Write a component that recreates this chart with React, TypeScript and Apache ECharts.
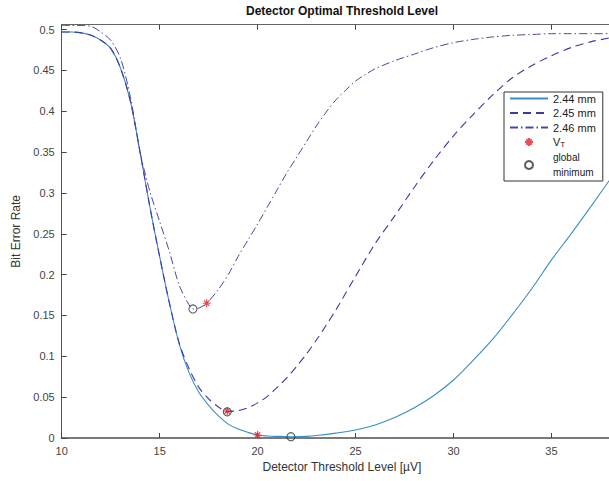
import React, { useEffect, useRef } from "react";
import * as echarts from "echarts";

// ---- data ----
const x244 = [10, 10.5, 11, 11.5, 12, 12.5, 13, 13.5, 14, 14.5, 15, 15.5, 16, 16.5, 17, 17.5, 18, 18.5, 19, 19.5, 20, 20.5, 21, 21.7, 22.5, 23, 24, 25, 26, 27, 28, 29, 30, 31, 32, 33, 34, 35, 36, 37, 38, 39, 40];
const y244 = [0.497, 0.497, 0.496, 0.493, 0.487, 0.477, 0.453, 0.413, 0.35, 0.283, 0.222, 0.165, 0.115, 0.08, 0.056, 0.04, 0.027, 0.017, 0.011, 0.007, 0.0037, 0.0025, 0.002, 0.0016, 0.002, 0.003, 0.006, 0.0098, 0.016, 0.025, 0.037, 0.052, 0.071, 0.095, 0.121, 0.151, 0.183, 0.218, 0.25, 0.283, 0.317, 0.35, 0.38];

const x245 = [10, 10.5, 11, 11.5, 12, 12.5, 13, 13.5, 14, 14.5, 15, 15.5, 16, 16.5, 17, 17.5, 18, 18.45, 19, 19.5, 20, 20.5, 21, 21.5, 22, 22.5, 23, 23.5, 24, 25, 26, 27, 28, 29, 30, 31, 32, 33, 34, 35, 36, 37, 38, 39, 40];
const y245 = [0.497, 0.497, 0.496, 0.493, 0.487, 0.477, 0.453, 0.413, 0.35, 0.283, 0.222, 0.165, 0.116, 0.085, 0.062, 0.048, 0.038, 0.0325, 0.0335, 0.037, 0.043, 0.051, 0.062, 0.074, 0.088, 0.103, 0.12, 0.138, 0.157, 0.198, 0.238, 0.272, 0.307, 0.34, 0.37, 0.396, 0.42, 0.441, 0.456, 0.468, 0.478, 0.485, 0.49, 0.494, 0.496];

const x246 = [10, 10.5, 11, 11.5, 12, 12.5, 13, 13.5, 14, 14.5, 15, 15.5, 16, 16.5, 16.7, 17, 17.4, 18, 18.5, 19, 19.5, 20, 20.5, 21, 21.5, 22, 22.5, 23, 23.5, 24, 24.5, 25, 25.5, 26, 27, 28, 29, 30, 31, 32, 33, 34, 35, 36, 37, 38, 40];
const y246 = [0.505, 0.505, 0.505, 0.504, 0.497, 0.487, 0.465, 0.418, 0.35, 0.302, 0.265, 0.228, 0.187, 0.163, 0.158, 0.159, 0.165, 0.182, 0.2, 0.222, 0.242, 0.262, 0.283, 0.304, 0.325, 0.344, 0.363, 0.382, 0.399, 0.414, 0.426, 0.437, 0.445, 0.452, 0.462, 0.47, 0.478, 0.484, 0.488, 0.491, 0.493, 0.494, 0.495, 0.495, 0.495, 0.495, 0.495];

const vtX = [17.4, 18.45, 20.0];
const vtY = [0.165, 0.033, 0.0037];
const minX = [16.7, 18.45, 21.7];
const minY = [0.158, 0.032, 0.0016];

const seriesNames = ["2.44 mm", "2.45 mm", "2.46 mm"];
const vtName = "VT";
const minName = "global\nminimum";
const xTicks = [10, 15, 20, 25, 30, 35];

const FONT = "'Liberation Sans', Arial, Helvetica, sans-serif";
const zip = (xs: number[], ys: number[]) => xs.map((x, i) => [x, ys[i]]);

const ASTERISK = "path://M5,0L5,10M0,5L10,5M1.6,1.6L8.4,8.4M1.6,8.4L8.4,1.6";

export default function App() {
  const ref = useRef<HTMLDivElement>(null);
  useEffect(() => {
    if (!ref.current) return;
    const chart = echarts.init(ref.current, undefined, { renderer: "svg" });
    chart.setOption({
      animation: false,
      backgroundColor: "#ffffff",
      textStyle: { fontFamily: FONT },
      graphic: [
        {
          type: "text",
          x: 342,
          y: 11,
          style: {
            text: "Detector Optimal Threshold Level",
            textAlign: "center",
            textVerticalAlign: "middle",
            font: `bold 12px ${FONT}`,
            fill: "#111",
          },
          z: 10,
        },
      ],
      grid: { left: 61.7, top: 24.7, right: 18, bottom: 43, containLabel: false },
      legend: {
        orient: "vertical",
        left: 504,
        top: 92,
        backgroundColor: "#ffffff",
        borderColor: "#333",
        borderWidth: 1,
        borderRadius: 0,
        padding: [0, 7, 1, 5],
        itemGap: 1.5,
        itemWidth: 38,
        itemHeight: 8,
        textStyle: {
          fontSize: 11,
          lineHeight: 13,
          color: "#222",
          fontFamily: FONT,
          rich: {
            v: { fontSize: 11, lineHeight: 13, color: "#222", fontFamily: FONT },
            s: { fontSize: 8, lineHeight: 13, color: "#222", fontFamily: FONT, verticalAlign: "bottom", padding: [5, 0, 0, 0] },
            g: { fontSize: 10, lineHeight: 15, color: "#222", fontFamily: FONT },
          },
        },
        formatter: (name: string) =>
          name === vtName ? "{v|V}{s|T}" : name === minName ? "{g|global}\n{g|minimum}" : name,
        data: [
          { name: seriesNames[0], itemStyle: { opacity: 0 } },
          { name: seriesNames[1], itemStyle: { opacity: 0 } },
          { name: seriesNames[2], itemStyle: { opacity: 0 } },
          { name: vtName },
          { name: minName },
        ],
      },
      xAxis: [
        {
          type: "value",
          min: 10,
          max: 38.6,
          interval: 5,
          position: "bottom",
          name: "Detector Threshold Level [µV]",
          nameLocation: "middle",
          nameGap: 22,
          nameTextStyle: { fontSize: 12, color: "#333", fontFamily: FONT },
          axisLine: { show: true, lineStyle: { color: "#7a7a7a", width: 2 } },
          axisTick: { show: true, inside: true, length: 5, lineStyle: { color: "#444", width: 1 } },
          axisLabel: {
            show: true,
            showMaxLabel: false,
            fontSize: 11,
            color: "#444",
            margin: 7,
            fontFamily: FONT,
            formatter: (v: number) => (xTicks.includes(v) ? String(v) : ""),
          },
          splitLine: { show: false },
        },
        {
          type: "value",
          min: 10,
          max: 38.6,
          interval: 5,
          position: "top",
          axisLine: { show: true, onZero: false, lineStyle: { color: "#666", width: 1 } },
          axisTick: { show: true, inside: true, length: 5, lineStyle: { color: "#444", width: 1 } },
          axisLabel: { show: false },
          splitLine: { show: false },
        },
      ],
      yAxis: {
        type: "value",
        min: 0,
        max: 0.506,
        interval: 0.05,
        name: "Bit Error Rate",
        nameLocation: "middle",
        nameGap: 31,
        nameTextStyle: { fontSize: 12, color: "#333", fontFamily: FONT },
        axisLine: { show: true, lineStyle: { color: "#555", width: 1 } },
        axisTick: { show: true, inside: true, length: 5, lineStyle: { color: "#444", width: 1 } },
        axisLabel: {
          showMaxLabel: false,
          fontSize: 11,
          color: "#444",
          margin: 7,
          fontFamily: FONT,
          formatter: (v: number) => {
            const r = Math.round(v * 100) / 100;
            return Math.abs(r - v) < 1e-9 ? String(r) : "";
          },
        },
        splitLine: { show: false },
      },
      series: [
        {
          name: seriesNames[0],
          type: "line",
          data: zip(x244, y244),
          smooth: 0.3,
          symbol: "none",
          lineStyle: { color: "#3a8dc5", width: 1.1, type: "solid" },
          itemStyle: { color: "#3a8dc5" },
          z: 2,
        },
        {
          name: seriesNames[1],
          type: "line",
          data: zip(x245, y245),
          smooth: 0.3,
          symbol: "none",
          lineStyle: { color: "#3b3ba3", width: 1.1, type: [8, 5] },
          itemStyle: { color: "#3b3ba3" },
          z: 3,
        },
        {
          name: seriesNames[2],
          type: "line",
          data: zip(x246, y246),
          smooth: 0.3,
          symbol: "none",
          lineStyle: { color: "#4a4a9c", width: 1, type: [8, 3, 1.5, 3] },
          itemStyle: { color: "#4a4a9c" },
          z: 3,
        },
        {
          name: vtName,
          type: "scatter",
          data: zip(vtX, vtY),
          symbol: ASTERISK,
          symbolSize: 8,
          itemStyle: { color: "rgba(0,0,0,0)", borderColor: "#e3202b", borderWidth: 1.2 },
          z: 5,
        },
        {
          name: minName,
          type: "scatter",
          data: zip(minX, minY),
          symbol: "circle",
          symbolSize: 8,
          itemStyle: { color: "rgba(0,0,0,0)", borderColor: "#333", borderWidth: 1.1 },
          z: 6,
        },
      ],
    });
    return () => chart.dispose();
  }, []);
  return (
    <div style={{ position: "absolute", left: 0, top: 0, width: 609, height: 481, overflow: "hidden" }}>
      <div ref={ref} style={{ position: "absolute", left: 0, top: 0, width: 640, height: 481 }} />
    </div>
  );
}
